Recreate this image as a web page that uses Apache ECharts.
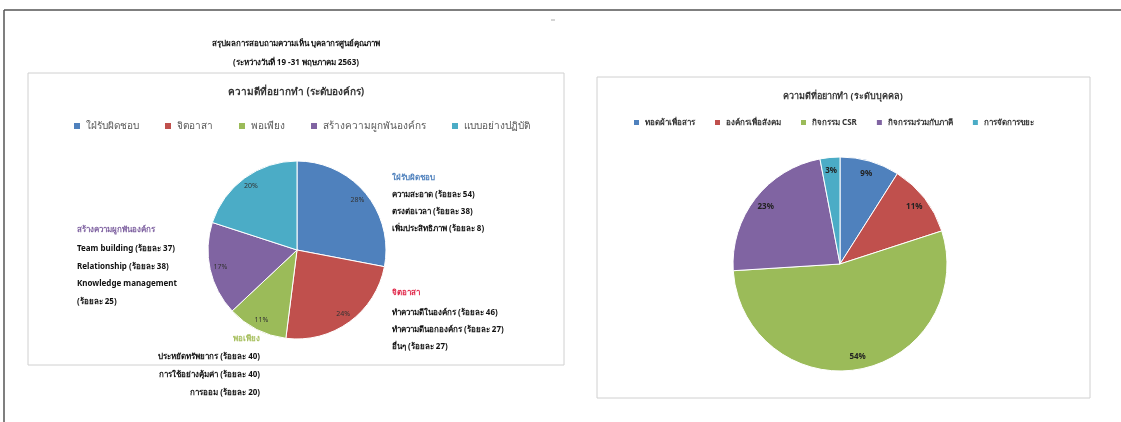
<!DOCTYPE html>
<html>
<head>
<meta charset="utf-8">
<script src="https://cdn.jsdelivr.net/npm/echarts@6/dist/echarts.min.js"></script>
<style>
html,body{margin:0;padding:0;background:#fff;}
#chart{width:1121px;height:422px;}
</style>
</head>
<body>
<div id="chart"></div>
<script>
// ---- data ----
const pageTitle = ['สรุปผลการสอบถามความเห็น บุคลากรศูนย์คุณภาพ', '(ระหว่างวันที่ 19 -31 พฤษภาคม 2563)'];
const leftTitle = 'ความดีที่อยากทำ (ระดับองค์กร)';
const leftNames = ['ใฝ่รับผิดชอบ', 'จิตอาสา', 'พอเพียง', 'สร้างความผูกพันองค์กร', 'แบบอย่างปฏิบัติ'];
const leftValues = [28, 24, 11, 17, 20];
const rightTitle = 'ความดีที่อยากทำ (ระดับบุคคล)';
const rightNames = ['ทอดผ้าเพื่อสาร', 'องค์กรเพื่อสังคม', 'กิจกรรม CSR', 'กิจกรรมร่วมกับภาคี', 'การจัดการขยะ'];
const rightValues = [9, 11, 54, 23, 3];
const blueNotes = ['ความสะอาด (ร้อยละ 54)', 'ตรงต่อเวลา (ร้อยละ 38)', 'เพิ่มประสิทธิภาพ (ร้อยละ 8)'];
const redNotes = ['ทำความดีในองค์กร (ร้อยละ 46)', 'ทำความดีนอกองค์กร (ร้อยละ 27)', 'อื่นๆ (ร้อยละ 27)'];
const purpleNotes = ['Team building (ร้อยละ 37)', 'Relationship (ร้อยละ 38)', 'Knowledge management', '(ร้อยละ 25)'];
const greenNotes = ['ประหยัดทรัพยากร (ร้อยละ 40)', 'การใช้อย่างคุ้มค่า (ร้อยละ 40)', 'การออม (ร้อยละ 20)'];

const colors = ['#4F81BD', '#C0504D', '#9BBB59', '#8064A2', '#4BACC6'];
const FONT = '"Noto Sans", "DejaVu Sans", sans-serif';

const chart = echarts.init(document.getElementById('chart'));

function toData(names, values) {
  return names.map((n, i) => ({ name: n, value: values[i], itemStyle: { color: colors[i] } }));
}
function toOverlay(names, values) {
  return names.map((n, i) => ({ name: n, value: values[i] }));
}

function noteBlock(x, y, heading, headColor, lines, align, step) {
  const els = [];
  els.push({ type: 'text', x: x, y: y, style: { text: heading, fill: headColor, font: 'bold 8px ' + FONT, textAlign: align, textVerticalAlign: 'middle' } });
  lines.forEach((t, i) => {
    els.push({ type: 'text', x: x, y: y + step[0] + i * step[1], style: { text: t, fill: '#111', font: 'bold 8px ' + FONT, textAlign: align, textVerticalAlign: 'middle' } });
  });
  return els;
}

const graphics = [
  { type: 'line', shape: { x1: 4, y1: 10, x2: 1121, y2: 10 }, style: { stroke: '#555', lineWidth: 1.5 } },
  { type: 'line', shape: { x1: 4, y1: 10, x2: 4, y2: 422 }, style: { stroke: '#555', lineWidth: 1.5 } },
  { type: 'line', shape: { x1: 551, y1: 20, x2: 555, y2: 20 }, style: { stroke: '#aaa', lineWidth: 1 } },
  { type: 'rect', shape: { x: 28, y: 73, width: 536, height: 292 }, style: { fill: 'none', stroke: '#d0d0d0', lineWidth: 1 }, z: -1 },
  { type: 'rect', shape: { x: 597, y: 77, width: 493, height: 321 }, style: { fill: 'none', stroke: '#d0d0d0', lineWidth: 1 }, z: -1 },
  { type: 'text', x: 296, y: 44, style: { text: pageTitle[0], fill: '#111', font: 'bold 8px ' + FONT, textAlign: 'center', textVerticalAlign: 'middle' } },
  { type: 'text', x: 296, y: 63, style: { text: pageTitle[1], fill: '#111', font: 'bold 8px ' + FONT, textAlign: 'center', textVerticalAlign: 'middle' } },
  { type: 'text', x: 296, y: 92, style: { text: leftTitle, fill: '#333', font: 'bold 10px ' + FONT, textAlign: 'center', textVerticalAlign: 'middle' } },
  { type: 'text', x: 843, y: 96, style: { text: rightTitle, fill: '#333', font: 'bold 9px ' + FONT, textAlign: 'center', textVerticalAlign: 'middle' } }
]
  .concat(noteBlock(392, 178, leftNames[0], colors[0], blueNotes, 'left', [17, 17]))
  .concat(noteBlock(392, 293, leftNames[1], '#e0284a', redNotes, 'left', [20, 17]))
  .concat(noteBlock(77, 230, leftNames[3], colors[3], purpleNotes, 'left', [19, 17.5]))
  .concat(noteBlock(260, 339, leftNames[2], '#a8c060', greenNotes, 'right', [17.5, 18]));

const option = {
  animation: false,
  textStyle: { fontFamily: FONT },
  legend: [
    {
      data: leftNames, left: 67, top: 116, orient: 'horizontal',
      itemWidth: 8, itemHeight: 8, itemGap: 24, icon: 'rect',
      textStyle: { fontSize: 10, color: '#595959', fontFamily: FONT }
    },
    {
      data: rightNames, left: 627, top: 113, orient: 'horizontal',
      itemWidth: 7, itemHeight: 7, itemGap: 18, icon: 'rect',
      textStyle: { fontSize: 8, color: '#333', fontWeight: 'bold', fontFamily: FONT }
    }
  ],
  graphic: { elements: graphics },
  series: [
    {
      type: 'pie', center: [297, 250], radius: 89, startAngle: 90, clockwise: true,
      data: toData(leftNames, leftValues), label: { show: false }, labelLine: { show: false },
      itemStyle: { borderColor: '#fff', borderWidth: 1 }, silent: true
    },
    {
      type: 'pie', center: [297, 250], radius: [62, 89], startAngle: 90, clockwise: true,
      data: toOverlay(leftNames, leftValues), itemStyle: { color: 'rgba(0,0,0,0)' },
      label: { show: true, position: 'inside', formatter: '{c}%', fontSize: 7, color: '#333', fontFamily: FONT },
      labelLine: { show: false }, silent: true, legendHoverLink: false, z: 3
    },
    {
      type: 'pie', center: [840, 264], radius: 107, startAngle: 90, clockwise: true,
      data: toData(rightNames, rightValues), label: { show: false }, labelLine: { show: false },
      itemStyle: { borderColor: '#fff', borderWidth: 1 }, silent: true
    },
    {
      type: 'pie', center: [840, 264], radius: [75, 107], startAngle: 90, clockwise: true,
      data: toOverlay(rightNames, rightValues), itemStyle: { color: 'rgba(0,0,0,0)' },
      label: { show: true, position: 'inside', formatter: '{c}%', fontSize: 8, fontWeight: 'bold', color: '#222', fontFamily: FONT },
      labelLine: { show: false }, silent: true, legendHoverLink: false, z: 3
    }
  ]
};
chart.setOption(option);
</script>
</body>
</html>
